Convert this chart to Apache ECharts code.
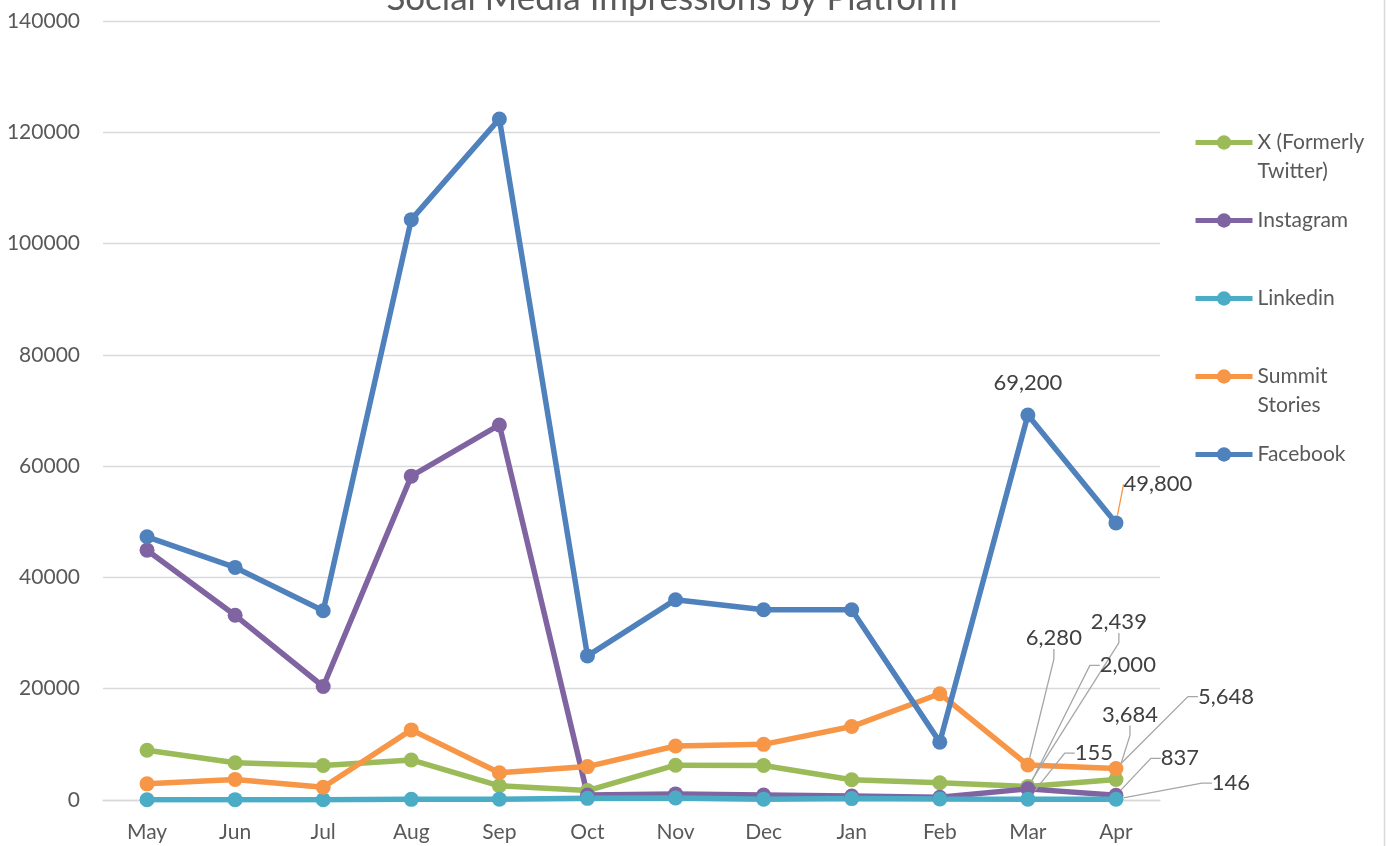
<!DOCTYPE html>
<html><head><meta charset="utf-8">
<script src="https://cdn.jsdelivr.net/npm/echarts@6/dist/echarts.min.js"></script>
<style>html,body{margin:0;padding:0;background:#fff}#c{width:1388px;height:846px}</style>
</head><body><div id="c"></div>
<script>
// ---- data ----
const months = ['May','Jun','Jul','Aug','Sep','Oct','Nov','Dec','Jan','Feb','Mar','Apr'];
const seriesNames = ['X (Formerly Twitter)','Instagram','Linkedin','Summit Stories','Facebook'];
const xTwitter      = [8950, 6700, 6200, 7200, 2550, 1700, 6250, 6200, 3650, 3100, 2439, 3684];
const instagram     = [44900, 33200, 20400, 58200, 67400, 900, 1100, 900, 700, 500, 2000, 837];
const linkedin      = [50, 60, 40, 120, 150, 300, 350, 150, 250, 180, 155, 146];
const summitStories = [2900, 3700, 2300, 12600, 4900, 6000, 9700, 10000, 13200, 19100, 6280, 5648];
const facebook      = [47300, 41800, 34000, 104300, 122400, 25900, 36000, 34200, 34200, 10400, 69200, 49800];
const labeledMonths = ['Mar','Apr'];
const yMin = 0, yMax = 140000, yStep = 20000;

// ---- styling / layout ----
const FONT = 'Lato';
const colors = ['#9BBB59','#8064A2','#4BACC6','#F79646','#4F81BD'];
const legendText = {
  'X (Formerly Twitter)': '\nX (Formerly\nTwitter)',
  'Instagram': '\nInstagram\n ',
  'Linkedin': '\nLinkedin\n ',
  'Summit Stories': '\nSummit\nStories',
  'Facebook': '\nFacebook\n '
};
// label offsets [dx, dy] per series index, per labeled month
const labelOffsets = [
  {Mar:[91,-141], Apr:[14,-41.5]},
  {Mar:[100,-100], Apr:[64,-13.5]},
  {Mar:[66,-22.5], Apr:[115,7.5]},
  {Mar:[26,-103.5], Apr:[110,-48.5]},
  {Mar:[0,-9], Apr:[42,-15]}
];
const leaderColors = [
  {Mar:'#A6A6A6', Apr:'#A6A6A6'},
  {Mar:'#A6A6A6', Apr:'#A6A6A6'},
  {Mar:'#A6A6A6', Apr:'#A6A6A6'},
  {Mar:'#A6A6A6', Apr:'#A6A6A6'},
  {Mar:null, Apr:'#F79646'}
];
const values = [xTwitter, instagram, linkedin, summitStories, facebook];

function fmt(v){ return Number(v).toLocaleString('en-US'); }

const series = seriesNames.map((name, si) => ({
  name, type:'line',
  data: values[si].map((v, i) => {
    const m = months[i];
    if (labeledMonths.indexOf(m) < 0) return v;
    const lc = leaderColors[si][m];
    return {
      value: v,
      label: {show: true},
      labelLine: lc ? {show: true, length2: (si === 4 ? 0 : 10), lineStyle: {color: lc, width: 1.3}} : {show: false}
    };
  }),
  symbol: 'circle', symbolSize: 15,
  lineStyle: {width: 5.5, color: colors[si]},
  itemStyle: {color: colors[si]},
  label: {show: false, position: 'top', formatter: p => fmt(p.value), fontSize: 22, color: '#404040', fontFamily: FONT},
  labelLine: {show: false, length2: 10},
  labelLayout: function (p) {
    const o = labelOffsets[si][months[p.dataIndex]];
    return o ? {dx: o[0], dy: o[1]} : {};
  },
  emphasis: {disabled: true},
  animation: false
}));

const chart = echarts.init(document.getElementById('c'));
chart.setOption({
  backgroundColor: '#fff',
  color: colors,
  textStyle: {fontFamily: FONT},
  title: {
    text: 'Social Media Impressions by Platform',
    left: 667, top: -24, textAlign: 'center',
    textStyle: {fontSize: 35, fontWeight: 'normal', color: '#595959', fontFamily: FONT}
  },
  legend: {
    orient: 'vertical', left: 1188, top: 94,
    itemWidth: 57, itemHeight: 18, itemGap: -9,
    formatter: n => legendText[n],
    lineStyle: {width: 5},
    textStyle: {fontSize: 21, lineHeight: 29, color: '#595959', fontFamily: FONT}
  },
  grid: {left: 103, right: 228, top: 21, bottom: 46, containLabel: false},
  xAxis: {
    type: 'category', data: months, boundaryGap: true,
    axisLine: {lineStyle: {color: '#D9D9D9', width: 1.3}},
    axisTick: {show: false},
    axisLabel: {color: '#595959', fontSize: 21, margin: 22, fontFamily: FONT}
  },
  yAxis: {
    type: 'value', min: yMin, max: yMax, interval: yStep,
    axisLine: {show: false}, axisTick: {show: false},
    axisLabel: {formatter: v => String(v), color: '#595959', fontSize: 21, margin: 23, fontFamily: FONT},
    splitLine: {lineStyle: {color: '#D9D9D9', width: 1.3}}
  },
  graphic: [{
    type: 'line', shape: {x1: 1384.5, y1: 0, x2: 1384.5, y2: 846},
    style: {stroke: '#D9D9D9', lineWidth: 1.5}, silent: true
  }],
  series
});
</script></body></html>
